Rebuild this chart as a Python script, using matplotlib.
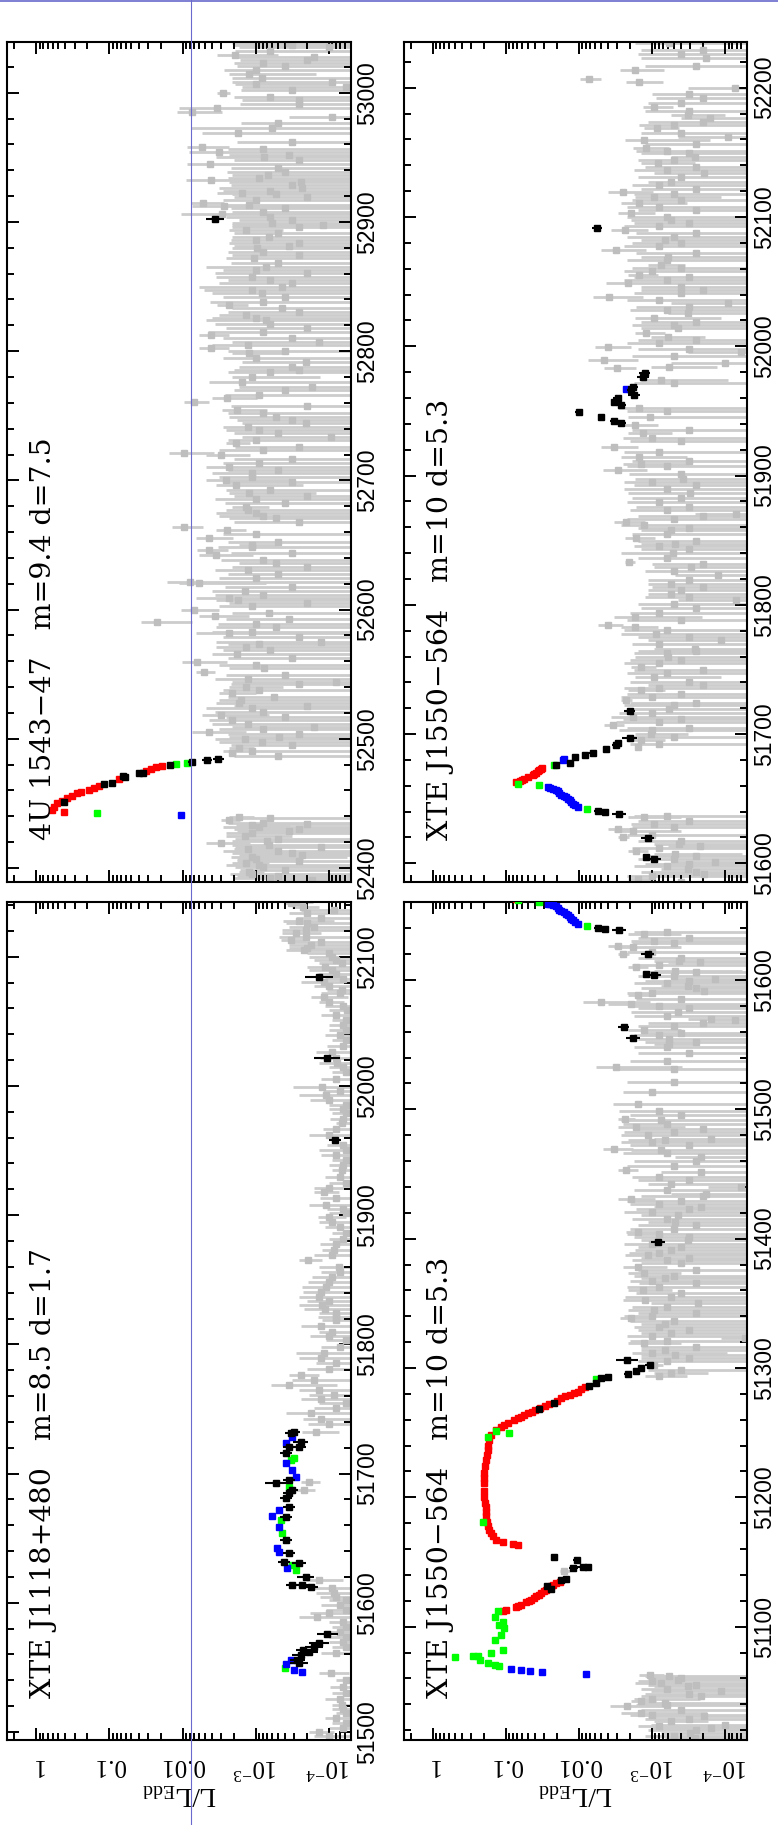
import numpy as np
import matplotlib
matplotlib.use("Agg")
import matplotlib.pyplot as plt
from matplotlib.ticker import FixedLocator, FixedFormatter, LogLocator, MultipleLocator, NullFormatter
from matplotlib.lines import Line2D

plt.rcParams['mathtext.fontset'] = 'custom'
plt.rcParams['mathtext.rm'] = 'Liberation Serif'
plt.rcParams['mathtext.it'] = 'Liberation Serif:italic'
plt.rcParams['mathtext.bf'] = 'Liberation Serif:bold'

# ---------------- data (MJD, log10 L/LEdd) ----------------
# 4U 1543-47
u_red_mjd = [52443.1, 52444.9, 52447.5, 52450.1, 52452.1, 52453.9, 52455.9, 52457.8, 52459.1, 52460.4,
             52461.7, 52463.5, 52468.7, 52475.3, 52476.6, 52477.9, 52479.2]
u_red_log = [-0.379, -0.219, -0.242, -0.288, -0.356, -0.424, -0.493, -0.561, -0.607, -0.721,
             -0.789, -0.858, -1.13, -1.50, -1.565, -1.63, -1.72]
u_green_mjd = [52442.3, 52480.5, 52481.5]
u_green_log = [-0.835, -1.907, -2.057]
u_blue_mjd = [52441.3]
u_blue_log = [-1.98]
u_black_mjd = [52451.3, 52464.8, 52465.6, 52470.7, 52471.5, 52473.3, 52473.8, 52479.7, 52482.3, 52483.6, 52484.4, 52902.3]
u_black_log = [-0.379, -0.926, -1.04, -1.21, -1.19, -1.405, -1.46, -1.825, -2.13, -2.33, -2.49, -2.445]
u_black_err = [0.03, 0.03, 0.03, 0.03, 0.03, 0.04, 0.04, 0.04, 0.05, 0.07, 0.08, 0.125]
u_grey_mjd = [52390.7, 52393.5, 52397.2, 52400.5, 52403.6, 52407.0, 52410.1, 52411.4, 52414.5, 52417.8,
              52419.1, 52422.5, 52426.8, 52430.0, 52433.3, 52435.0, 52437.2, 52439.7,
              52488.8, 52492.6, 52497.8, 52501.7, 52505.5, 52509.4, 52514.6, 52518.4, 52523.6, 52527.5,
              52535.2, 52540.4, 52544.2, 52552.0, 52554.6, 52559.7, 52571.3, 52575.2, 52581.6, 52583.0,
              52586.8, 52590.7, 52595.3, 52597.1, 52599.7, 52607.4, 52608.7, 52620.9, 52621.6, 52635.8,
              52642.3, 52646.1, 52650.0, 52655.2, 52661.6, 52664.2, 52670.6, 52674.5, 52679.7, 52690.0,
              52696.4, 52700.3, 52705.5, 52710.6,
              52719.6, 52721.4, 52728.6, 52733.8, 52738.9, 52744.1, 52749.3, 52754.5, 52760.9, 52763.5,
              52772.5, 52776.4, 52780.3, 52787.9, 52791.9, 52798.3, 52802.2, 52807.4, 52812.5, 52824.1,
              52828.0, 52833.2, 52835.7, 52844.8, 52849.9, 52857.7, 52865.4, 52871.8, 52879.6, 52883.5,
              52888.6, 52893.8, 52897.6, 52899.5, 52901.5, 52906.2, 52908.0, 52912.4, 52913.1, 52914.4,
              52921.4, 52922.7, 52926.0, 52931.2, 52932.5, 52936.4, 52938.9, 52944.6, 52950.5, 52951.8,
              52954.4, 52958.3, 52968.6, 52972.5, 52981.0, 52985.4, 52987.9, 52994.4, 52999.6, 53004.7,
              53008.6, 53011.2, 53014.5, 53017.6, 53027.9, 53029.2, 53035.7, 53038.3]
u_grey_log = [-3.776, -3.30, -2.91, -3.10, -2.864, -3.00, -3.64, -3.503, -2.90, -3.184,
              -2.522, -3.30, -2.956, -3.60, -2.956, -3.10, -2.636, -2.773,
              -2.682, -2.773, -3.092, -3.32, -2.363, -3.799, -2.682, -2.522, -2.956, -2.773,
              -2.682, -2.864, -4.096, -2.294, -3.115, -2.203, -2.864, -3.89, -2.636, -2.956,
              -3.275, -1.651, -2.445, -3.184, -2.162, -2.76, -2.636, -2.226, -2.103, -3.275,
              -2.454, -2.363, -2.956, -2.363, -2.614, -2.021, -3.275, -3.0, -2.864, -2.91,
              -2.728, -2.591, -2.956, -2.636,
              -2.522, -2.021, -2.728, -4.027, -3.047, -3.685, -3.275, -2.75, -2.158, -2.614,
              -3.776, -2.819, -2.956, -3.503, -3.685, -2.91, -2.386, -3.868, -2.386, -3.138,
              -2.864, -3.366, -2.636, -3.092, -3.366, -2.956, -3.138, -2.978, -3.024, -3.594,
              -3.184, -2.864, -3.922, -3.229, -3.494, -2.536, -3.106, -2.568, -2.91, -2.281,
              -3.275, -2.819, -3.63, -3.617, -2.386, -3.17, -3.402, -2.372, -3.115, -3.457,
              -2.50, -2.263, -2.76, -3.229, -4.05, -2.135, -2.477, -3.594, -2.554, -4.232,
              -4.05, -3.092, -2.91, -3.0, -3.799, -2.718, -4.0, -3.457]
u_grey_hi = [-3.138, -2.75, -2.773, -2.72, -2.682, -2.75, -2.773, -2.682, -2.70, -2.682,
             -2.317, -2.72, -2.591, -2.70, -2.728, -2.62, -2.522, -2.636,
             -2.636, -2.636, -2.50, -2.636, -2.135, -2.682, -2.363, -2.272, -2.317, -2.454,
             -2.50, -2.636, -2.682, -2.18, -2.636, -1.998, -2.454, -2.454, -2.18, -2.408,
             -2.454, -1.428, -2.226, -2.682, -1.975, -2.454, -2.18, -1.952, -1.793, -2.773,
             -2.226, -2.203, -2.773, -2.18, -2.454, -1.861, -2.636, -2.454, -2.682, -2.636,
             -2.454, -2.317, -2.408, -2.317,
             -2.317, -1.815, -2.591, -2.819, -2.591, -2.819, -2.636, -2.545, -2.021, -2.408,
             -2.773, -2.363, -2.682, -2.773, -2.819, -2.682, -2.226, -2.682, -2.226, -2.317,
             -2.50, -2.682, -2.477, -2.408, -2.226, -2.454, -2.317, -2.591, -2.682, -2.636,
             -2.682, -2.636, -2.682, -2.682, -2.773, -1.975, -2.682, -2.135, -2.591, -2.112,
             -2.682, -2.477, -2.50, -2.636, -2.044, -2.682, -2.614, -2.066, -2.454, -2.636,
             -2.09, -2.066, -2.272, -2.112, -3.457, -1.93, -1.952, -2.819, -2.477, -2.819,
             -2.682, -2.682, -2.636, -2.568, -2.682, -2.477, -2.773, -2.682]
# further readings of the densely packed faint 4U 1543-47 points
u_grey2_mjd = [52392.0, 52395.3, 52398.8, 52402.0, 52405.3, 52408.6, 52412.8, 52416.2, 52420.8, 52424.6,
               52428.4, 52431.6, 52434.2, 52438.5, 52486.5, 52490.7, 52494.9, 52499.8, 52503.6, 52507.4,
               52511.8, 52516.5, 52521.0, 52525.6, 52529.8, 52532.6, 52537.8, 52542.3, 52546.5, 52549.4,
               52557.2, 52562.5, 52565.8, 52568.6, 52573.4, 52578.6, 52588.6, 52592.9, 52602.4, 52605.1,
               52611.4, 52614.3, 52617.6, 52624.4, 52627.6, 52630.8, 52633.1, 52638.6, 52644.0, 52648.2,
               52652.6, 52658.3, 52667.4, 52672.4, 52677.0, 52682.4, 52685.2, 52687.6, 52692.8, 52698.5,
               52702.8, 52707.9, 52713.4, 52716.8, 52723.8, 52726.2, 52731.1, 52736.3, 52741.5, 52746.7,
               52751.9, 52757.2, 52766.3, 52769.6, 52783.5, 52785.7, 52794.9, 52800.2, 52804.8, 52809.9,
               52815.2, 52818.1, 52821.2, 52826.0, 52830.6, 52838.4, 52841.6, 52847.3, 52852.5, 52855.1,
               52860.3, 52862.8, 52868.5, 52874.4, 52877.0, 52881.2, 52886.0, 52891.2, 52896.0, 52903.6,
               52910.5, 52916.8, 52919.3, 52924.2, 52928.6, 52934.0, 52941.6, 52947.9, 52956.2, 52962.0,
               52976.5, 52991.0, 52997.0, 53001.8, 53006.6, 53020.4, 53022.9, 53025.2, 53032.4, 53037.0]
u_grey2_log = [-3.2, -2.95, -3.4, -3.05, -3.6, -2.95, -3.3, -3.9, -3.15, -2.85,
               -3.45, -3.05, -3.7, -3.2, -3.3, -2.95, -3.5, -2.85, -3.6, -3.1,
               -2.9, -3.4, -3.1, -3.7, -2.8, -3.25, -3.05, -3.6, -2.9, -3.4,
               -3.0, -3.5, -2.75, -3.2, -3.05, -3.6, -3.0, -3.45, -2.95, -3.7,
               -3.1, -2.85, -3.5, -3.0, -3.3, -2.9, -3.7, -3.1, -3.5, -2.95,
               -3.3, -3.0, -3.6, -3.1, -2.9, -3.4, -3.0, -3.7, -3.2, -3.5,
               -2.95, -3.3, -3.05, -3.5, -3.1, -3.6, -3.0, -3.3, -2.9, -3.5,
               -3.1, -3.7, -3.05, -3.4, -3.2, -3.6, -3.0, -3.4, -2.9, -3.5,
               -3.1, -3.7, -3.2, -3.0, -3.6, -3.1, -3.4, -2.95, -3.5, -3.2,
               -3.7, -3.0, -3.3, -3.6, -3.1, -3.45, -3.0, -3.3, -3.6, -3.2,
               -3.4, -3.0, -3.7, -3.2, -3.5, -3.05, -3.3, -3.6, -3.1, -3.5,
               -3.3, -3.6, -3.2, -3.5, -3.0, -3.4, -3.1, -3.7, -3.2, -3.5]
u_grey2_hi = [-2.70, -2.65, -2.78, -2.60, -2.74, -2.66, -2.56, -2.72, -2.68, -2.60,
              -2.74, -2.55, -2.76, -2.66, -2.70, -2.55, -2.66, -2.45, -2.62, -2.50,
              -2.40, -2.60, -2.45, -2.70, -2.50, -2.62, -2.55, -2.66, -2.45, -2.60,
              -2.50, -2.62, -2.40, -2.55, -2.62, -2.55, -2.48, -2.60, -2.50, -2.64,
              -2.45, -2.40, -2.58, -2.50, -2.62, -2.45, -2.68, -2.52, -2.66, -2.48,
              -2.62, -2.55, -2.70, -2.50, -2.60, -2.58, -2.45, -2.70, -2.60, -2.55,
              -2.50, -2.62, -2.55, -2.70, -2.50, -2.72, -2.62, -2.70, -2.55, -2.75,
              -2.62, -2.66, -2.58, -2.70, -2.62, -2.70, -2.55, -2.62, -2.40, -2.55,
              -2.35, -2.60, -2.45, -2.40, -2.62, -2.38, -2.55, -2.30, -2.50, -2.62,
              -2.45, -2.55, -2.66, -2.68, -2.62, -2.70, -2.66, -2.70, -2.68, -2.60,
              -2.66, -2.55, -2.70, -2.55, -2.66, -2.62, -2.66, -2.70, -2.62, -2.75,
              -2.80, -2.78, -2.70, -2.80, -2.72, -2.75, -2.70, -2.78, -2.72, -2.70]

# XTE J1118+480
j_green_mjd = [51549.2, 51625.3, 51629.2, 51653.7, 51664.0, 51689.8, 51710.5, 51711.8]
j_green_log = [-3.402, -3.548, -3.503, -3.366, -3.343, -3.457, -3.48, -3.526]
j_blue_mjd = [51552.3, 51555.7, 51548.0, 51546.6, 51626.6, 51639.5, 51642.1, 51658.9, 51667.1, 51671.8,
              51697.6, 51702.7, 51707.9, 51723.4, 51728.5]
j_blue_log = [-3.412, -3.48, -3.526, -3.63, -3.434, -3.32, -3.298, -3.32, -3.229, -3.32,
              -3.548, -3.503, -3.412, -3.412, -3.503]
j_black_mjd = [51553.1, 51555.7, 51559.6, 51563.4, 51562.1, 51566.0, 51568.6, 51575.8, 51612.4, 51613.7,
               51613.7, 51620.2, 51631.8, 51630.5, 51638.2, 51648.6, 51666.6, 51674.4, 51680.8, 51684.7,
               51687.3, 51692.4, 51695.0, 51715.6, 51720.8, 51720.8, 51724.7, 51732.4, 51731.1,
               51958.2, 52021.4, 52084.1]
j_black_log = [-3.594, -3.571, -3.617, -3.649, -3.731, -3.799, -3.868, -3.982, -3.753, -3.64,
               -3.494, -3.685, -3.389, -3.594, -3.457, -3.412, -3.412, -3.457, -3.412, -3.457,
               -3.503, -3.275, -3.457, -3.412, -3.457, -3.594, -3.617, -3.526, -3.48,
               -4.086, -3.98, -3.867]
j_black_err = [0.12, 0.10, 0.12, 0.10, 0.12, 0.12, 0.14, 0.14, 0.10, 0.10,
               0.08, 0.12, 0.08, 0.10, 0.08, 0.08, 0.08, 0.08, 0.08, 0.08,
               0.08, 0.14, 0.08, 0.08, 0.08, 0.10, 0.10, 0.08, 0.08,
               0.08, 0.18, 0.19]
j_grey_mjd = [52141.4, 52138.8, 52136.2, 52125.9, 52120.8, 52115.6, 52113.0, 52109.2, 52105.3, 52100.1,
              52095.0, 52089.8, 52080.8, 52074.3, 52069.2, 52065.3, 52058.8, 52051.1, 52043.4, 52035.6,
              52026.6, 52017.6, 52011.1, 51999.5, 51993.0, 51985.3, 51978.9, 51971.1, 51962.1, 51950.5,
              51942.7, 51935.0, 51924.7, 51918.2, 51907.9, 51901.5, 51895.0, 51886.0, 51873.1, 51865.3,
              51860.2, 51852.4, 51844.7, 51837.0, 51830.5, 51824.1, 51818.9, 51809.9, 51803.4, 51793.1,
              51785.4, 51776.3, 51768.5, 51764.7, 51760.8, 51754.3, 51746.6, 51732.4, 51693.7, 51687.3,
              51617.6, 51611.2, 51607.3, 51602.1, 51594.4, 51589.2, 51581.5, 51573.7, 51566.0, 51545.4,
              51540.2, 51529.9, 51520.9, 51514.4, 51506.7, 51500.2]
j_grey_log = [-3.48, -3.649, -4.073, -3.708, -3.685, -3.685, -3.48, -3.753, -3.662, -4.05,
              -4.187, -4.05, -3.936, -4.187, -3.936, -4.004, -4.255, -4.232, -4.232, -4.232,
              -4.05, -4.118, -4.232, -3.913, -3.968, -4.232, -4.232, -4.187, -4.004, -4.232,
              -4.232, -4.187, -4.232, -3.936, -3.959, -4.232, -4.05, -4.232, -4.073, -3.722,
              -4.141, -4.05, -3.959, -3.868, -3.913, -4.096, -4.096, -4.05, -4.232, -3.936,
              -4.096, -3.617, -3.457, -3.868, -4.073, -4.232, -3.753, -3.822, -3.731, -3.662,
              -3.868, -4.05, -4.073, -4.232, -4.232, -3.845, -4.232, -4.232, -4.232, -4.027,
              -4.232, -4.232, -4.187, -4.232, -4.232, -3.868]
j_grey_hi = [-3.389, -3.503, -3.617, -3.412, -3.366, -3.32, -3.343, -3.457, -3.412, -3.731,
             -3.868, -3.731, -3.617, -3.982, -3.753, -3.868, -4.004, -4.05, -4.004, -4.05,
             -3.822, -3.868, -4.05, -3.512, -3.594, -4.004, -4.05, -4.096, -3.731, -3.868,
             -4.05, -4.05, -4.004, -3.799, -3.731, -4.004, -3.868, -4.05, -3.913, -3.594,
             -3.868, -3.776, -3.64, -3.594, -3.594, -3.868, -3.913, -3.868, -3.959, -3.548,
             -3.822, -3.457, -3.206, -3.594, -3.731, -3.868, -3.412, -3.64, -3.617, -3.548,
             -3.685, -3.776, -3.822, -4.004, -3.959, -3.594, -4.05, -4.004, -4.05, -3.868,
             -4.096, -4.05, -4.05, -4.096, -4.05, -3.731]
j_grey2_mjd = [52142.0, 52133.5, 52130.2, 52128.0, 52123.1, 52118.3, 52111.2, 52107.1, 52102.8, 52097.5,
               52092.4, 52086.7, 52083.0, 52077.5, 52071.6, 52062.0, 52055.0, 52047.2, 52039.5, 52031.0,
               52022.0, 52014.3, 52005.0, 51996.2, 51989.0, 51982.1, 51974.8, 51966.7, 51954.5, 51946.6,
               51938.8, 51929.8, 51921.4, 51913.0, 51904.7, 51898.2, 51890.5, 51881.5, 51877.3, 51869.2,
               51856.3, 51848.6, 51840.8, 51833.7, 51827.3, 51821.5, 51814.4, 51806.6, 51798.2, 51789.2,
               51780.8, 51772.4, 51757.5, 51750.4, 51742.0, 51738.0, 51604.7, 51598.2, 51591.8, 51585.3,
               51577.6, 51569.9, 51561.0, 51535.1, 51525.4, 51517.7, 51510.5, 51503.4, 51496.8]
j_grey2_log = [-3.55, -3.7, -3.9, -3.6, -3.8, -3.55, -3.9, -3.7, -4.0, -4.1,
               -3.95, -4.1, -4.2, -4.0, -4.15, -4.2, -4.1, -4.2, -4.15, -4.2,
               -4.1, -4.2, -4.1, -4.15, -4.0, -4.2, -4.2, -4.1, -4.2, -4.1,
               -4.2, -4.15, -4.0, -4.1, -4.2, -4.0, -4.15, -4.2, -4.1, -4.05,
               -4.15, -4.0, -3.9, -4.0, -3.95, -4.1, -3.9, -4.0, -4.15, -3.9,
               -4.0, -3.8, -3.9, -4.1, -3.9, -4.0, -4.1, -4.15, -4.0, -4.2,
               -4.15, -4.2, -4.1, -4.2, -4.15, -4.2, -4.1, -4.2, -4.0]
j_grey2_hi = [-3.40, -3.45, -3.55, -3.38, -3.45, -3.36, -3.50, -3.45, -3.70, -3.80,
              -3.70, -3.85, -3.95, -3.80, -3.90, -3.95, -3.90, -4.00, -3.95, -3.98,
              -3.88, -4.00, -3.90, -3.92, -3.75, -4.00, -4.02, -3.92, -3.98, -3.90,
              -4.00, -3.95, -3.80, -3.88, -3.98, -3.85, -3.95, -4.00, -3.88, -3.80,
              -3.90, -3.72, -3.65, -3.70, -3.66, -3.85, -3.62, -3.75, -3.90, -3.60,
              -3.70, -3.50, -3.62, -3.80, -3.65, -3.72, -3.88, -3.90, -3.75, -4.00,
              -3.95, -4.00, -3.90, -4.02, -3.95, -4.04, -3.95, -4.00, -3.80]

# XTE J1550-564
x_red_mjd = [51111.8, 51113.1, 51114.9, 51116.0, 51117.0, 51118.8, 51119.8, 51120.8, 51122.0, 51123.4,
             51124.7, 51126.0, 51127.3, 51128.6, 51130.0, 51131.1, 51132.4, 51133.7, 51134.2,
             51162.8, 51164.1, 51165.2, 51167.2, 51170.0, 51172.4, 51175.0, 51177.5, 51181.0, 51185.2,
             51189.0, 51192.9, 51196.0, 51200.6, 51205.0, 51211.0, 51215.0, 51218.7, 51224.0, 51229.0,
             51233.0, 51236.7, 51240.0, 51244.4, 51248.3, 51252.0, 51254.7, 51256.2, 51257.8, 51259.8,
             51261.0, 51262.4, 51263.7, 51265.0, 51266.3, 51267.6, 51269.0, 51270.7, 51272.0, 51274.5,
             51276.6, 51278.0, 51279.2, 51280.5, 51281.7, 51283.5, 51285.1,
             51662.9, 51663.7, 51664.6, 51665.5, 51666.8, 51668.1, 51669.2, 51670.2, 51671.3, 51672.4,
             51673.2, 51674.0]
x_red_log = [-0.958, -1.003, -1.14, -1.17, -1.208, -1.277, -1.31, -1.345, -1.38, -1.414,
             -1.45, -1.482, -1.52, -1.55, -1.58, -1.619, -1.65, -1.687, -1.746,
             -1.163, -1.094, -0.958, -0.866, -0.82, -0.798, -0.77, -0.752, -0.74, -0.73,
             -0.73, -0.73, -0.72, -0.707, -0.70, -0.698, -0.70, -0.707, -0.72, -0.73,
             -0.74, -0.752, -0.76, -0.775, -0.798, -0.87, -0.935, -0.98, -1.026, -1.117,
             -1.16, -1.208, -1.25, -1.30, -1.35, -1.391, -1.46, -1.528, -1.59, -1.70,
             -1.755, -1.81, -1.87, -1.93, -1.984, -2.03, -2.075,
             -1.14, -1.186, -1.22, -1.254, -1.3, -1.368, -1.39, -1.414, -1.44, -1.459,
             -1.475, -1.491]
x_green_mjd = [51069.9, 51070.7, 51072.0, 51074.5, 51076.3, 51077.1, 51077.6, 51079.7, 51082.2, 51090.0,
               51093.8, 51099.0, 51101.5, 51104.0, 51107.5, 51111.8, 51181.3, 51247.0, 51250.0, 51251.6,
               51291.2, 51641.8, 51660.4, 51661.7, 51676.4]
x_green_log = [-0.912, -0.844, -0.752, -0.652, -0.297, -0.547, -0.616, -0.798, -0.958, -0.844,
               -0.935, -0.98, -0.912, -0.96, -0.844, -0.889, -0.684, -0.752, -1.049, -0.866,
               -2.23, -2.111, -1.446, -1.163, -1.651]
x_blue_mjd = [51063.7, 51064.7, 51065.5, 51066.3, 51067.6,
              51643.6, 51645.0, 51646.2, 51647.5, 51648.8, 51650.0, 51651.3, 51652.2, 51653.1, 51654.3,
              51655.7, 51656.8, 51657.8, 51658.5, 51659.1, 51679.8, 51680.5, 51967.0]
x_blue_log = [-2.093, -1.491, -1.336, -1.208, -1.071,
              -1.984, -1.95, -1.915, -1.89, -1.87, -1.85, -1.824, -1.79, -1.755, -1.73,
              -1.71, -1.68, -1.642, -1.60, -1.573, -1.78, -1.801, -2.645]
x_black_mjd = [51129.1, 51131.1, 51136.3, 51136.8, 51145.3, 51146.1, 51146.1, 51151.2, 51153.8, 51268.3,
               51273.2, 51286.1, 51288.7, 51292.0, 51293.3, 51295.4, 51297.9, 51299.8, 51302.3, 51306.2,
               51397.1, 51555.1, 51563.6, 51603.5, 51604.8, 51619.7, 51638.4, 51639.7, 51640.5, 51676.0,
               51677.9, 51682.3, 51684.1, 51685.4, 51688.8, 51691.3, 51693.1, 51697.0, 51717.6, 51940.8,
               51942.3, 51945.4, 51948.8, 51954.5, 51957.0, 51959.7, 51962.2, 51966.1, 51968.7, 51976.4,
               51979.0, 52091.7]
x_black_log = [-1.619, -1.564, -1.755, -1.824, -1.924, -2.052, -2.12, -1.974, -1.655, -1.459,
               -1.651, -2.134, -2.234, -2.303, -2.394, -2.668, -2.782, -2.85, -2.964, -2.658,
               -3.078, -2.736, -2.609, -3.02, -2.92, -2.94, -2.545, -2.349, -2.257, -1.69,
               -1.87, -1.947, -2.075, -2.189, -2.372, -2.509, -2.531, -2.691, -2.691, -2.577,
               -2.485, -2.303, -1.993, -2.577, -2.485, -2.531, -2.75, -2.713, -2.736, -2.873,
               -2.896, -2.248]
x_black_err = [0.03, 0.03, 0.04, 0.04, 0.06, 0.10, 0.05, 0.05, 0.04, 0.03,
               0.03, 0.03, 0.03, 0.04, 0.05, 0.05, 0.05, 0.05, 0.06, 0.15,
               0.10, 0.10, 0.07, 0.10, 0.05, 0.09, 0.10, 0.06, 0.05, 0.04,
               0.04, 0.04, 0.04, 0.05, 0.05, 0.06, 0.06, 0.10, 0.08, 0.07,
               0.06, 0.05, 0.05, 0.07, 0.05, 0.06, 0.08, 0.06, 0.07, 0.08,
               0.08, 0.07]
x_grey_mjd = [51014.0, 51017.9, 51021.7, 51024.3, 51026.9, 51030.7, 51033.3, 51038.5, 51041.0, 51042.3,
              51046.2, 51050.0, 51053.9, 51056.5, 51059.0, 51061.6, 51062.9, 51142.7,
              51295.8, 51302.3, 51310.0, 51313.9, 51319.0, 51322.9, 51326.7, 51334.4, 51338.3, 51344.7,
              51349.9, 51355.0, 51360.2, 51369.2, 51373.1, 51378.2, 51380.8, 51387.2, 51391.1, 51398.8,
              51405.2, 51412.9, 51418.1, 51424.5, 51431.0, 51434.8, 51440.0, 51442.6, 51451.6, 51453.4,
              51463.1, 51468.8, 51469.6, 51476.0, 51477.3, 51479.9, 51486.3, 51491.5, 51492.7, 51504.3,
              51530.8, 51532.6, 51550.7, 51554.5, 51561.0, 51568.7, 51570.0, 51575.1, 51581.5, 51582.8,
              51588.0, 51591.8, 51595.7, 51600.9, 51607.3, 51609.9, 51613.7, 51615.0, 51620.2, 51625.3,
              51626.6, 51630.5, 51635.6,
              51690.0, 51695.2, 51700.3, 51706.8, 51713.2, 51719.7, 51726.1, 51733.9, 51737.7, 51744.2,
              51751.9, 51759.7, 51766.1, 51772.6, 51777.7, 51782.9, 51784.2, 51790.6, 51803.5, 51808.7,
              51816.4, 51822.9, 51829.3, 51833.2, 51839.7, 51847.4, 51851.3, 51857.7, 51861.6, 51864.2,
              51870.6, 51886.1, 51897.7, 51904.2, 51909.3,
              51914.5, 51922.3, 51932.6, 51939.1, 51945.5, 51952.5, 51973.9, 51982.9, 51984.2, 51986.8,
              51989.4, 51995.8, 51999.7, 52007.4, 52010.0, 52013.9, 52021.6, 52025.5, 52033.2, 52038.4,
              52046.1, 52048.7, 52055.2, 52062.9, 52069.3, 52074.5, 52082.2, 52090.0, 52097.7, 52102.9,
              52110.6, 52115.8, 52119.6, 52127.4, 52133.8, 52141.6, 52146.7, 52153.2, 52159.6, 52162.2,
              52168.7, 52176.4, 52179.0, 52185.4, 52199.6, 52204.8, 52206.9, 52213.8, 52222.9, 52234.5]
x_grey_log = [-3.58, -3.511, -3.808, -3.99, -3.26, -3.716, -2.85, -2.658, -3.169, -2.85,
              -3.671, -3.944, -3.488, -3.124, -3.351, -3.237, -2.964, -1.801,
              -3.26, -3.032, -3.306, -3.169, -2.895, -4.264, -3.26, -3.169, -2.713, -3.032,
              -3.625, -3.26, -2.873, -3.169, -2.895, -2.804, -3.397, -2.941, -3.26, -3.488,
              -2.804, -3.306, -3.351, -3.671, -2.713, -3.739, -4.218, -3.26, -3.671, -2.645,
              -3.671, -3.124, -2.485, -3.169, -3.808, -2.941, -2.782, -3.124, -2.631, -2.804,
              -3.297, -2.508, -3.228, -3.237, -2.895, -4.127, -3.808, -3.351, -2.713, -2.303,
              -2.804, -3.716, -3.488, -3.853, -3.306, -2.782, -3.648, -3.374, -2.60, -2.736,
              -2.531, -3.032, -2.895,
              -2.804, -2.85, -2.987, -2.462, -2.736, -3.237, -2.645, -2.85, -3.694, -3.032,
              -2.85, -3.215, -3.58, -3.944, -3.055, -2.759, -2.394, -2.759, -4.15, -3.26,
              -3.26, -3.899, -3.534, -2.69, -3.283, -3.306, -2.782, -3.26, -2.895, -2.645,
              -4.15, -3.511, -3.42, -2.531, -2.85,
              -2.827, -2.485, -2.873, -2.759, -2.964, -2.827, -3.124, -2.513, -3.237, -3.99,
              -2.34, -4.218, -2.394, -3.215, -2.918, -3.351, -3.032, -3.488, -4.035, -2.408,
              -3.397, -2.668, -2.827, -3.124, -3.215, -2.508, -3.169, -2.622, -3.26, -2.713,
              -2.827, -3.032, -2.60, -3.26, -3.716, -3.078, -3.58, -2.918, -2.895, -4.035,
              -3.069, -3.785, -3.488, -3.032, -4.127, -2.827, -2.13, -2.759, -3.739, -3.237]
x_grey_hi = [-3.169, -3.124, -2.987, -2.987, -3.032, -2.941, -2.577, -2.417, -2.804, -2.713,
             -2.85, -2.987, -3.032, -2.759, -2.941, -2.896, -2.827, -1.74,
             -3.032, -2.941, -2.85, -2.85, -2.668, -3.944, -2.85, -2.85, -2.554, -2.668,
             -2.987, -2.622, -2.668, -2.85, -2.668, -2.60, -2.85, -2.622, -2.759, -2.85,
             -2.645, -2.941, -2.85, -3.032, -2.531, -3.26, -3.762, -2.941, -3.124, -2.531,
             -3.306, -2.713, -2.326, -2.668, -3.032, -2.577, -2.531, -2.577, -2.531, -2.462,
             -2.531, -2.235, -3.032, -2.804, -2.668, -3.762, -3.488, -2.713, -2.394, -2.052,
             -2.668, -3.032, -3.124, -3.26, -3.032, -2.668, -3.215, -3.032, -2.531, -2.485,
             -2.394, -2.713, -2.668,
             -2.759, -2.668, -2.759, -2.348, -2.44, -2.668, -2.577, -2.668, -2.941, -2.759,
             -2.713, -2.759, -3.032, -2.941, -2.577, -2.577, -2.257, -2.485, -3.351, -2.941,
             -2.941, -3.306, -3.032, -2.622, -2.577, -2.85, -2.622, -2.85, -2.577, -2.485,
             -3.58, -2.668, -2.759, -2.326, -2.60,
             -2.577, -2.303, -2.668, -2.577, -2.668, -2.531, -2.85, -2.348, -2.987, -3.26,
             -2.12, -3.488, -2.212, -2.987, -2.759, -2.85, -2.759, -3.215, -3.26, -2.189,
             -2.85, -2.371, -2.668, -2.941, -2.85, -2.303, -2.85, -2.44, -2.713, -2.531,
             -2.577, -2.759, -2.394, -2.941, -3.032, -2.85, -3.26, -2.736, -2.622, -3.351,
             -2.895, -3.397, -3.26, -2.873, -3.488, -2.645, -2.007, -2.554, -2.85, -2.759]
x_grey2_mjd = [51015.5, 51019.8, 51023.0, 51028.5, 51031.9, 51035.8, 51039.7, 51044.3, 51048.1, 51052.0,
               51055.2, 51057.7, 51060.3, 51293.7, 51298.5, 51305.5, 51308.0, 51311.8, 51316.5, 51321.0,
               51324.8, 51329.0, 51331.7, 51336.4, 51340.5, 51342.6, 51347.2, 51352.5, 51357.6, 51362.8,
               51365.4, 51367.3, 51371.0, 51375.6, 51383.5, 51385.3, 51389.2, 51393.6, 51396.0, 51401.4,
               51403.3, 51407.8, 51410.4, 51415.5, 51420.7, 51422.6, 51427.1, 51429.0, 51433.0, 51437.4,
               51445.2, 51448.0, 51456.0, 51459.8, 51466.0, 51472.5, 51474.4, 51482.5, 51484.4, 51488.9,
               51495.3, 51498.5, 51513.0, 51521.0, 51537.5, 51543.3, 51547.8, 51552.2, 51557.3, 51559.2,
               51564.3, 51566.4, 51572.5, 51578.0, 51580.2, 51585.4, 51590.0, 51593.5, 51597.6, 51599.5,
               51603.0, 51605.8, 51611.5, 51617.3, 51622.0, 51628.4, 51632.8, 51637.0,
               51692.5, 51697.8, 51702.9, 51704.6, 51709.3, 51711.6, 51716.0, 51722.3, 51724.0, 51728.8,
               51731.2, 51736.0, 51740.5, 51747.6, 51749.8, 51755.0, 51757.4, 51762.5, 51764.3, 51769.3,
               51775.2, 51780.4, 51787.9, 51793.6, 51797.2, 51800.4, 51806.2, 51811.8, 51814.0, 51819.3,
               51826.1, 51831.6, 51836.0, 51842.8, 51845.1, 51849.6, 51854.9, 51859.3, 51866.7, 51868.4,
               51873.0, 51875.8, 51879.3, 51882.5, 51889.8, 51892.6, 51895.0, 51900.8, 51907.0, 51911.5,
               51918.2, 51926.5, 51929.0, 51935.4, 51950.0, 51971.2, 51992.5, 51997.6, 52002.5, 52004.8,
               52016.3, 52019.0, 52028.0, 52030.6, 52035.9, 52041.0, 52043.6, 52051.2, 52053.5, 52058.0,
               52060.6, 52066.6, 52071.8, 52077.2, 52079.8, 52084.8, 52087.3, 52092.8, 52095.2, 52100.3,
               52105.6, 52108.0, 52113.2, 52117.7, 52122.0, 52125.0, 52130.6, 52136.4, 52139.0, 52144.2,
               52149.3, 52151.0, 52156.4, 52165.0, 52171.0, 52173.6, 52182.2, 52188.0, 52192.0, 52195.5,
               52217.0, 52226.0, 52229.5]
x_grey2_log = [-3.3, -3.6, -3.1, -3.5, -3.0, -3.4, -3.2, -3.0, -3.5, -3.2,
               -3.6, -3.0, -3.4, -3.1, -3.4, -3.2, -3.5, -3.0, -3.6, -3.2,
               -3.0, -3.5, -3.1, -3.3, -3.0, -3.6, -3.2, -2.9, -3.4, -3.1,
               -3.6, -3.0, -3.3, -3.6, -3.2, -3.5, -3.1, -3.4, -3.0, -3.5,
               -3.1, -3.3, -3.6, -3.2, -3.0, -3.5, -3.1, -3.4, -3.7, -3.2,
               -3.5, -3.1, -3.3, -3.6, -3.2, -3.5, -3.0, -3.3, -3.7, -3.2,
               -3.4, -3.1, -3.0, -3.3, -3.2, -3.5, -3.2, -3.6, -3.1, -3.4,
               -3.3, -3.7, -3.2, -3.5, -3.1, -3.4, -3.0, -3.6, -3.2, -3.5,
               -3.3, -3.6, -3.1, -3.4, -3.0, -3.3, -3.5, -3.2,
               -3.1, -3.3, -3.0, -3.5, -3.1, -3.4, -3.0, -3.3, -3.6, -3.0,
               -3.4, -3.1, -3.5, -3.2, -3.7, -3.1, -3.4, -3.2, -3.6, -3.1,
               -3.5, -3.2, -3.4, -3.1, -3.6, -3.3, -3.5, -3.4, -3.7, -3.5,
               -3.3, -3.7, -3.2, -3.5, -3.1, -3.6, -3.2, -3.5, -3.3, -3.7,
               -3.2, -3.5, -3.1, -3.4, -3.2, -3.6, -3.0, -3.4, -3.2, -3.5,
               -3.1, -3.4, -3.0, -3.5, -3.2, -3.3, -3.3, -3.5, -3.1, -3.6,
               -3.3, -3.6, -3.2, -3.5, -3.1, -3.4, -3.7, -3.2, -3.5, -3.0,
               -3.4, -3.2, -3.6, -3.1, -3.4, -3.3, -3.6, -3.1, -3.5, -3.2,
               -3.6, -3.1, -3.4, -3.3, -3.6, -3.1, -3.4, -3.2, -3.6, -3.3,
               -3.5, -3.2, -3.6, -3.4, -3.3, -3.7, -3.5, -3.4, -3.7, -3.5,
               -3.6, -3.4, -3.7]
x_grey2_hi = [-2.90, -2.95, -2.80, -2.90, -2.70, -2.85, -2.78, -2.75, -2.90, -2.85,
              -2.95, -2.80, -2.95, -2.90, -2.95, -2.80, -2.85, -2.72, -2.85, -2.70,
              -2.65, -2.80, -2.75, -2.70, -2.62, -2.80, -2.72, -2.60, -2.78, -2.66,
              -2.82, -2.70, -2.75, -2.80, -2.72, -2.85, -2.68, -2.80, -2.62, -2.75,
              -2.66, -2.70, -2.80, -2.72, -2.62, -2.78, -2.70, -2.66, -2.85, -2.75,
              -2.80, -2.72, -2.66, -2.75, -2.60, -2.70, -2.58, -2.62, -2.75, -2.60,
              -2.70, -2.55, -2.60, -2.65, -2.70, -2.80, -2.75, -2.90, -2.75, -2.85,
              -2.80, -2.95, -2.75, -2.80, -2.72, -2.78, -2.65, -2.85, -2.75, -2.90,
              -2.80, -2.90, -2.72, -2.80, -2.66, -2.72, -2.80, -2.75,
              -2.70, -2.75, -2.55, -2.66, -2.50, -2.60, -2.55, -2.62, -2.70, -2.58,
              -2.66, -2.62, -2.70, -2.66, -2.75, -2.62, -2.70, -2.75, -2.80, -2.72,
              -2.80, -2.62, -2.66, -2.70, -2.85, -2.80, -2.90, -2.95, -3.00, -2.95,
              -2.90, -3.00, -2.80, -2.85, -2.75, -2.80, -2.72, -2.80, -2.66, -2.80,
              -2.70, -2.78, -2.66, -2.72, -2.62, -2.75, -2.62, -2.68, -2.66, -2.72,
              -2.62, -2.70, -2.60, -2.72, -2.66, -2.75, -2.72, -2.80, -2.66, -2.80,
              -2.72, -2.85, -2.70, -2.78, -2.66, -2.75, -2.85, -2.62, -2.75, -2.62,
              -2.72, -2.66, -2.78, -2.62, -2.72, -2.66, -2.78, -2.62, -2.75, -2.66,
              -2.80, -2.66, -2.72, -2.75, -2.85, -2.72, -2.80, -2.75, -2.90, -2.80,
              -2.85, -2.78, -2.90, -2.85, -2.82, -2.95, -2.90, -2.95, -3.05, -3.00,
              -2.90, -2.80, -2.85]

l_tick_vals = [1, 0.1, 0.01, 1e-3, 1e-4]
l_tick_text = ['1', '0.1', '0.01', r'$\mathregular{10^{-3}}$', r'$\mathregular{10^{-4}}$']

sources = {
    '4U': dict(grey=(u_grey_mjd + u_grey2_mjd, u_grey_log + u_grey2_log, u_grey_hi + u_grey2_hi),
               red=(u_red_mjd, u_red_log), green=(u_green_mjd, u_green_log), blue=(u_blue_mjd, u_blue_log),
               black=(u_black_mjd, u_black_log, u_black_err)),
    'J1118': dict(grey=(j_grey_mjd + j_grey2_mjd, j_grey_log + j_grey2_log, j_grey_hi + j_grey2_hi),
                  red=([], []), green=(j_green_mjd, j_green_log), blue=(j_blue_mjd, j_blue_log),
                  black=(j_black_mjd, j_black_log, j_black_err)),
    'J1550': dict(grey=(x_grey_mjd + x_grey2_mjd, x_grey_log + x_grey2_log, x_grey_hi + x_grey2_hi),
                  red=(x_red_mjd, x_red_log), green=(x_green_mjd, x_green_log), blue=(x_blue_mjd, x_blue_log),
                  black=(x_black_mjd, x_black_log, x_black_err)),
}

panels = [
    dict(rect=[0.00938, 0.51688, 0.4414, 0.46027], ylim=(52389.4, 53039.5), src='4U',
         text='4U 1543\u221247   m=9.4 d=7.5', bottom=False),
    dict(rect=[0.00938, 0.046575, 0.4414, 0.45934], ylim=(51493.8, 52142.6), src='J1118',
         text='XTE J1118+480   m=8.5 d=1.7', bottom=True),
    dict(rect=[0.5189, 0.51688, 0.4416, 0.46027], ylim=(51585.8, 52235.6), src='J1550',
         text='XTE J1550\u2212564   m=10 d=5.3', bottom=False),
    dict(rect=[0.5189, 0.046575, 0.4416, 0.45934], ylim=(51012.4, 51660.5), src='J1550',
         text='XTE J1550\u2212564   m=10 d=5.3', bottom=True),
]

GREY_LINE = '#cccccc'
GREY_SQ = '#bebebe'

fig = plt.figure(figsize=(7.78, 18.25), dpi=100)

for p in panels:
    ax = fig.add_axes(p['rect'])
    d = sources[p['src']]
    gm, gl, gh = (np.asarray(a, float) for a in d['grey'])
    gv = 10 ** gl
    ghi = 10 ** gh
    gerr = ghi - gv
    glo = np.clip(gv - gerr, 1e-8, None)
    ax.hlines(gm, glo, ghi, color=GREY_LINE, lw=2.0, zorder=1)
    ax.plot(gv, gm, 's', ms=4.4, mfc=GREY_SQ, mec=GREY_SQ, ls='none', zorder=2)
    for key, col in (('red', '#ff0000'), ('green', '#00ff00'), ('blue', '#0000ff')):
        m, l = d[key]
        if len(m):
            ax.plot(10 ** np.asarray(l, float), m, 's', color=col, ms=4.8, ls='none', zorder=4)
    bm, bl, be = (np.asarray(a, float) for a in d['black'])
    bv = 10 ** bl
    ax.errorbar(bv, bm, xerr=[bv - 10 ** (bl - be), 10 ** (bl + be) - bv], fmt='s', color='k',
                ms=4.8, elinewidth=1.5, capsize=0, zorder=5)

    ax.set_xscale('log')
    ax.set_xlim(2.5, 5e-5)
    ax.set_ylim(*p['ylim'])
    ax.xaxis.set_major_locator(FixedLocator(l_tick_vals))
    ax.xaxis.set_major_formatter(FixedFormatter(l_tick_text))
    ax.xaxis.set_minor_locator(LogLocator(base=10, subs=np.arange(2, 10) * 1.0, numticks=20))
    ax.xaxis.set_minor_formatter(NullFormatter())
    ax.yaxis.set_major_locator(MultipleLocator(100))
    ax.yaxis.set_minor_locator(MultipleLocator(20))
    for s in ax.spines.values():
        s.set_linewidth(1.5)
    ax.tick_params(which='both', direction='in', top=True, bottom=True, left=True, right=True, width=1.4)
    ax.tick_params(which='major', length=8.6)
    ax.tick_params(which='minor', length=5)
    ax.tick_params(axis='y', labelleft=False, labelright=True, labelrotation=90, pad=4, labelsize=16.5)
    ax.tick_params(axis='x', labelbottom=p['bottom'], labelrotation=180, pad=10, labelsize=18)
    for lab in ax.get_yticklabels():
        lab.set_fontfamily('Liberation Sans')
        lab.set_va('center')
    for lab in ax.get_xticklabels():
        lab.set_fontfamily('Liberation Serif')
    if p['bottom']:
        ax.set_xlabel(r'$\mathregular{L/L_{Edd}}$', fontsize=20, fontfamily='Liberation Serif',
                      rotation=180, labelpad=2)
    ax.text(0.128, 0.05, p['text'], transform=ax.transAxes, rotation=90, rotation_mode='anchor',
            ha='left', va='baseline', fontsize=20.5, fontfamily='DejaVu Serif', zorder=6)

# thin blue guide lines present in the reference image
fig.add_artist(Line2D([191 / 778, 191 / 778], [0, 1], transform=fig.transFigure, color='#6a6acd',
                      lw=0.8, zorder=20))
fig.add_artist(Line2D([0, 1], [1 - 1.0 / 1825, 1 - 1.0 / 1825], transform=fig.transFigure,
                      color='#6a6acd', lw=1.2, zorder=20))

fig.savefig('out.png', dpi=100)
